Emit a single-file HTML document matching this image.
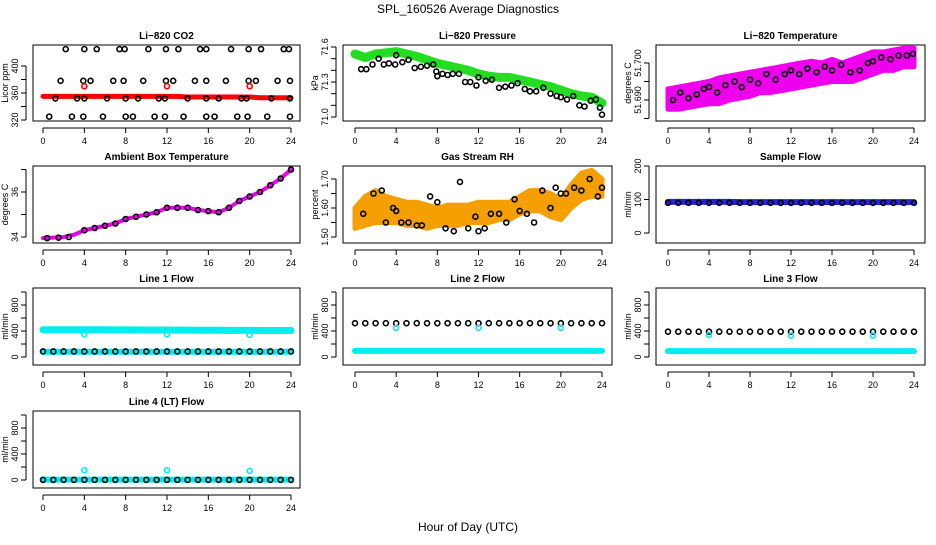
<!DOCTYPE html>
<html><head><meta charset="utf-8"><style>
body{margin:0;background:#fff;width:936px;height:540px;overflow:hidden}
svg{font-family:"Liberation Sans",sans-serif}
</style></head><body>
<svg id="c" width="936" height="540">
<text x="468" y="13" text-anchor="middle" font-size="12">SPL_160526  Average Diagnostics</text>
<text x="468" y="531" text-anchor="middle" font-size="12">Hour of Day (UTC)</text>
</svg>
<script>
const hours=[0,1,2,3,4,5,6,7,8,9,10,11,12,13,14,15,16,17,18,19,20,21,22,23,24];
// CO2
const co2Band=[355,355,355,355,355,355,355,355,355,355,355,355,355,355,354,354,354,354,354,354,354,353,353,353,353];
const co2BlackX=[2.2,4,5.2,7.4,7.9,10.2,11.9,13.1,15.2,15.8,18.2,19.9,21.1,23.3,23.8,1.7,3.9,4.6,6.8,7.8,9.7,11.9,12.6,14.7,15.8,17.7,19.9,20.6,22.7,23.9,1.2,3.3,4,6.2,8,9.2,11.2,11.8,14,15.8,17,19.2,19.7,22.1,23.9,0.6,2.8,3.9,5.8,8,8.7,10.8,11.8,13.6,15.8,16.6,18.8,19.8,21.7,23.9];
const co2BlackY=[425,425,425,425,425,425,425,425,425,425,425,425,425,425,425,378,378,378,378,378,378,378,378,378,378,378,378,378,378,378,352,352,352,352,352,352,352,352,352,352,352,352,352,352,352,325,325,325,325,325,325,325,325,325,325,325,325,325,325,325];
const co2RedX=[4,12,20];const co2RedY=[370,370,370];
// Pressure
const presBand=[71.54,71.51,71.54,71.55,71.56,71.54,71.52,71.49,71.46,71.44,71.42,71.40,71.37,71.35,71.34,71.34,71.32,71.30,71.28,71.26,71.23,71.20,71.18,71.17,71.12];
const presBlackX=[0.6,1.1,1.7,2.3,2.8,3.3,3.9,4,4.6,5.2,5.8,6.4,7,7.6,7.9,8,8.5,9,9.5,10.1,10.7,11.2,11.8,12,12.7,13.3,14,14.6,15.2,15.8,16.5,17,17.6,18.3,19,19.6,20,20.6,21.2,21.8,22.3,22.9,23.4,23.8,24];
const presBlackY=[71.41,71.41,71.45,71.50,71.45,71.46,71.45,71.53,71.47,71.49,71.42,71.43,71.44,71.45,71.39,71.35,71.37,71.36,71.37,71.37,71.30,71.30,71.27,71.34,71.31,71.32,71.25,71.26,71.27,71.29,71.24,71.22,71.22,71.25,71.20,71.18,71.17,71.15,71.18,71.10,71.09,71.14,71.15,71.08,71.02];
// Li-820 temperature
const tempLow=[51.6875,51.6875,51.688,51.6885,51.689,51.689,51.690,51.6905,51.691,51.692,51.692,51.6925,51.693,51.6935,51.694,51.6945,51.695,51.695,51.695,51.696,51.697,51.698,51.698,51.699,51.699];
const tempHigh=[51.6930,51.6935,51.694,51.6945,51.695,51.696,51.6965,51.697,51.6975,51.698,51.6985,51.699,51.6995,51.700,51.7005,51.700,51.701,51.700,51.701,51.702,51.703,51.703,51.7035,51.704,51.704];
const tempBlackX=[0.5,1.2,2,2.8,3.5,4,4.8,5.6,6.5,7.2,8,8.8,9.6,10.5,11.4,12,12.8,13.6,14.5,15.3,16,16.9,17.8,18.7,19.5,20,20.8,21.7,22.5,23.3,23.9];
const tempBlackY=[51.690,51.692,51.6905,51.6915,51.693,51.6935,51.692,51.694,51.695,51.6935,51.6955,51.6945,51.697,51.6955,51.697,51.698,51.697,51.6985,51.6975,51.699,51.698,51.6995,51.6975,51.698,51.700,51.7005,51.7015,51.701,51.702,51.702,51.7025];
// Ambient box temperature
const ambBand=[33.95,33.97,34.0,34.1,34.3,34.4,34.5,34.6,34.8,34.9,35.0,35.1,35.3,35.3,35.3,35.2,35.15,35.1,35.3,35.6,35.8,36.0,36.3,36.6,37.0];
const ambBlackX=[0.4,1.5,2.5,4,5,6,7,8,9,10,11,12,13,14,15,16,17,18,19,20,21,22,23,24];
const ambBlackY=[33.95,33.97,34.0,34.3,34.4,34.5,34.6,34.8,34.9,35.0,35.1,35.3,35.3,35.3,35.2,35.15,35.1,35.3,35.6,35.8,36.0,36.3,36.6,37.0];
// Gas stream RH
const rhLow=[1.53,1.54,1.55,1.55,1.55,1.54,1.54,1.53,1.54,1.54,1.54,1.55,1.55,1.55,1.56,1.56,1.58,1.59,1.59,1.57,1.56,1.60,1.63,1.64,1.64];
const rhHigh=[1.60,1.64,1.66,1.64,1.63,1.62,1.62,1.61,1.60,1.61,1.61,1.61,1.62,1.62,1.62,1.62,1.64,1.66,1.66,1.65,1.63,1.68,1.72,1.73,1.70];
const rhBlackX=[0.8,1.8,2.6,3,3.7,4,4.5,5.2,6,6.5,7.3,8,8.8,9.6,10.2,11,11.7,12,12.6,13.2,14,14.7,15.5,16,16.7,17.4,18.2,19,19.5,20,20.5,21.3,22,22.8,23.6,24];
const rhBlackY=[1.58,1.65,1.66,1.55,1.60,1.59,1.55,1.55,1.54,1.54,1.64,1.62,1.53,1.52,1.69,1.53,1.57,1.52,1.53,1.58,1.58,1.55,1.63,1.59,1.58,1.55,1.66,1.60,1.67,1.65,1.65,1.67,1.66,1.70,1.64,1.67];
// Sample flow
const sfBlue=[93,93,93,93,93,93,93,92,92,92,92,92,92,92,92,92,92,92,92,92,92,92,92,92,92];
const sfBlack=[90,90,90,90,90,90,90,90,90,90,90,90,90,90,90,90,90,90,90,90,90,90,90,90,90];
// Line flows
const l1Cyan=[420,420,420,420,420,420,420,418,418,416,416,415,415,414,414,412,412,412,410,410,410,408,408,408,408];
const l1CyanLow=[80,80,80,80,80,80,80,80,80,80,80,80,80,80,80,80,80,80,80,80,80,80,80,80,80];
const l1Black=[85,85,85,85,85,85,85,85,85,85,85,85,85,85,85,85,85,85,85,85,85,85,85,85,85];
const l2Cyan=[95,95,95,95,95,95,95,95,95,95,95,95,95,95,95,95,95,95,95,95,95,95,95,95,95];
const l2Black=[520,520,520,520,520,520,520,520,520,520,520,520,520,520,520,520,520,520,520,520,520,520,520,520,520];
const l3Cyan=[90,90,90,90,90,90,90,90,90,90,90,90,90,90,90,90,90,90,90,90,90,90,90,90,90];
const l3Black=[390,390,390,390,390,390,390,390,390,390,390,390,390,390,390,390,390,390,390,390,390,390,390,390,390];
const l4Cyan=[5,5,5,5,5,5,5,5,5,5,5,5,5,5,5,5,5,5,5,5,5,5,5,5,5];
const l4Black=[2,2,2,2,2,2,2,2,2,2,2,2,2,2,2,2,2,2,2,2,2,2,2,2,2];
const spikeX=[4,12,20];
const l1Spike=[350,350,340];const l2Spike=[450,450,450];const l3Spike=[340,330,330];const l4Spike=[150,150,140];
const xTicks=[0,4,8,12,16,20,24];

const svg=document.getElementById('c');const NS='http://www.w3.org/2000/svg';
function mk(t,a,p){const e=document.createElementNS(NS,t);for(const k in a)e.setAttribute(k,a[k]);(p||svg).appendChild(e);return e;}
const cols=[[33,300,43,291],[343,612,355,602],[656,925,668,914]];
const rows=[[45,121],[166,243],[288,365],[411,488]];
function panel(name,ci,ri,title,ytitle,v1,p1,v2,p2,yTickVals,yLabels){
 const [bx0,bx1,x0,x24]=cols[ci];const [by0,by1]=rows[ri];
 const g=mk('g',{});
 
 
 const X=h=>x0+(x24-x0)*h/24;
 const Y=v=>p1+(v-v1)*(p2-p1)/(v2-v1);
 const t=mk('text',{x:(bx0+bx1)/2,y:by0-6,'text-anchor':'middle','font-size':10,'font-weight':'bold'},g);t.textContent=title;
 
 
 const r=mk('rect',{x:bx0,y:by0,width:bx1-bx0,height:by1-by0,fill:'none',stroke:'#000'},g);
 
 
 mk('line',{x1:X(0),x2:X(24),y1:by1+7,y2:by1+7,stroke:'#000'},g);
 xTicks.forEach(h=>{mk('line',{x1:X(h),x2:X(h),y1:by1+7,y2:by1+12,stroke:'#000'},g);
  const l=mk('text',{x:X(h),y:by1+23,'text-anchor':'middle','font-size':9},g);l.textContent=h;
  
  });
 const ax=bx0-7;
 mk('line',{x1:ax,x2:ax,y1:Y(yTickVals[0]),y2:Y(yTickVals[yTickVals.length-1]),stroke:'#000'},g);
 yTickVals.forEach((v,i)=>{mk('line',{x1:ax-5,x2:ax,y1:Y(v),y2:Y(v),stroke:'#000'},g);
  if(yLabels[i]!==''){const l=mk('text',{x:ax-8,y:Y(v),'text-anchor':'middle','font-size':9,transform:`rotate(-90 ${ax-8} ${Y(v)})`},g);l.textContent=yLabels[i];
  
  }});
 const yt=mk('text',{x:bx0-25,y:(by0+by1)/2,'text-anchor':'middle','font-size':9,transform:`rotate(-90 ${bx0-25} ${(by0+by1)/2})`},g);yt.textContent=ytitle;
 
 
 return {g,X,Y};
}
function band(P,name,col,vals,w){
 const pl=mk('polyline',{points:hours.map((h,i)=>P.X(h)+','+P.Y(vals[i])).join(' '),fill:'none',stroke:col,'stroke-width':w,'stroke-linejoin':'round','stroke-linecap':'round'},P.g);
 
 
}
function area(P,name,col,lo,hi){
 const pts=hours.map((h,i)=>P.X(h)+','+P.Y(hi[i])).concat(hours.slice().reverse().map((h,j)=>P.X(h)+','+P.Y(lo[24-j])));
 const pg=mk('polygon',{points:pts.join(' '),fill:col,stroke:col,'stroke-width':5,'stroke-linejoin':'round'},P.g);
 
 
}
function pts(P,name,col,xs,ys){
 xs.forEach((x,i)=>{const c=mk('circle',{cx:P.X(x),cy:P.Y(ys[i]),r:2.5,fill:'none',stroke:col,'stroke-width':1.6},P.g);
 
 });
}
let P;
P=panel('co2',0,0,'Li−820 CO2','Licor ppm',320,120,400,66,[320,340,360,380,400],['320','','360','','400']);
band(P,'co2-band','#f00',co2Band,5);pts(P,'co2-point','#000',co2BlackX,co2BlackY);pts(P,'co2-cal-point','#f00',co2RedX,co2RedY);
P=panel('pressure',1,0,'Li−820 Pressure','kPa',71.0,117,71.6,47,[71.0,71.1,71.2,71.3,71.4,71.5,71.6],['71.0','','','71.3','','','71.6']);
band(P,'pressure-band','#2d2',presBand,9);pts(P,'pressure-point','#000',presBlackX,presBlackY);
P=panel('licor-temp',2,0,'Li−820 Temperature','degrees C',51.690,100,51.700,63,[51.685,51.690,51.695,51.700],['','51.690','','51.700']);
area(P,'licor-temp-cloud','#e0e',tempLow,tempHigh);pts(P,'licor-temp-point','#000',tempBlackX,tempBlackY);
P=panel('ambient',0,1,'Ambient Box Temperature','degrees C',34,237,36,192,[34,35,36,37],['34','','36','']);
band(P,'ambient-band','#e0e',ambBand,4);pts(P,'ambient-point','#000',ambBlackX,ambBlackY);
P=panel('rh',1,1,'Gas Stream RH','percent',1.50,237,1.70,179,[1.50,1.55,1.60,1.65,1.70],['1.50','','1.60','','1.70']);
area(P,'rh-cloud','#f5a000',rhLow,rhHigh);pts(P,'rh-point','#000',rhBlackX,rhBlackY);
P=panel('sample-flow',2,1,'Sample Flow','ml/min',0,233,200,166,[0,100,200],['0','100','200']);
band(P,'sample-flow-band','#22d',sfBlue,6);pts(P,'sample-flow-point','#000',hours,sfBlack);
const fT=[0,200,400,600,800,1000],fL=['0','','400','','800',''];
P=panel('line1',0,2,'Line 1 Flow','ml/min',0,357,800,305,fT,fL);
band(P,'line1-cyan','#0ee',l1Cyan,7);band(P,'line1-cyan-low','#0ee',l1CyanLow,6);pts(P,'line1-point','#000',hours,l1Black);pts(P,'line1-spike','#0ee',spikeX,l1Spike);
P=panel('line2',1,2,'Line 2 Flow','ml/min',0,357,800,305,fT,fL);
band(P,'line2-cyan','#0ee',l2Cyan,6);pts(P,'line2-point','#000',hours,l2Black);pts(P,'line2-spike','#0ee',spikeX,l2Spike);
P=panel('line3',2,2,'Line 3 Flow','ml/min',0,357,800,305,fT,fL);
band(P,'line3-cyan','#0ee',l3Cyan,6);pts(P,'line3-point','#000',hours,l3Black);pts(P,'line3-spike','#0ee',spikeX,l3Spike);
P=panel('line4',0,3,'Line 4 (LT) Flow','ml/min',0,480,800,428,fT,fL);
band(P,'line4-cyan','#0ee',l4Cyan,6);pts(P,'line4-point','#000',hours,l4Black);pts(P,'line4-spike','#0ee',spikeX,l4Spike);
</script>
</body></html>
